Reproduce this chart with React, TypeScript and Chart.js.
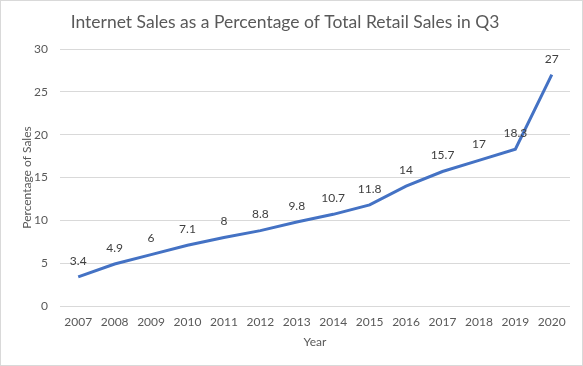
import React, { useEffect, useRef } from "react";
import { Chart, registerables } from "chart.js";

Chart.register(...registerables);

const years = ["2007", "2008", "2009", "2010", "2011", "2012", "2013", "2014", "2015", "2016", "2017", "2018", "2019", "2020"];
const percentages = [3.4, 4.9, 6, 7.1, 8, 8.8, 9.8, 10.7, 11.8, 14, 15.7, 17, 18.3, 27];
const yTicks = [0, 5, 10, 15, 20, 25, 30];

const FONT = "Lato, 'Open Sans', sans-serif";
const TEXT = "#595959";

const borderPlugin = {
  id: "frame",
  beforeDraw(chart: any) {
    const ctx = chart.ctx;
    ctx.save();
    ctx.fillStyle = "#ffffff";
    ctx.fillRect(0, 0, chart.width, chart.height);
    ctx.strokeStyle = "#d9d9d9";
    ctx.lineWidth = 1;
    ctx.strokeRect(0.5, 0.5, chart.width - 1, chart.height - 1);
    ctx.restore();
  },
};

const labelPlugin = {
  id: "pointLabels",
  afterDatasetsDraw(chart: any) {
    const ctx = chart.ctx;
    const meta = chart.getDatasetMeta(0);
    const data = chart.data.datasets[0].data as number[];
    ctx.save();
    ctx.font = `12px ${FONT}`;
    ctx.fillStyle = "#404040";
    ctx.textAlign = "center";
    ctx.textBaseline = "middle";
    meta.data.forEach((pt: any, i: number) => {
      ctx.fillText(String(data[i]), pt.x, pt.y - 16);
    });
    ctx.restore();
  },
};

export default function App() {
  const ref = useRef<HTMLCanvasElement>(null);
  useEffect(() => {
    document.body.style.margin = "0";
    const chart = new Chart(ref.current!, {
      type: "line",
      data: {
        labels: years,
        datasets: [
          {
            data: percentages,
            borderColor: "#4472C4",
            borderWidth: 3,
            pointRadius: 0,
            tension: 0,
            fill: false,
          },
        ],
      },
      options: {
        animation: false,
        responsive: false,
        maintainAspectRatio: false,
        layout: { padding: { left: 0, right: 13, top: 0, bottom: 0 } },
        plugins: {
          legend: { display: false },
          tooltip: { enabled: false },
          title: {
            display: true,
            text: "Internet Sales as a Percentage of Total Retail Sales in Q3",
            color: TEXT,
            font: { family: FONT, size: 17.5, weight: "normal" },
            padding: { top: 11.5, bottom: 16.5 },
          },
        },
        scales: {
          x: {
            offset: true,
            grid: { display: false, drawTicks: false },
            border: { display: false },
            ticks: { color: TEXT, font: { family: FONT, size: 12 }, padding: 9, maxRotation: 0, autoSkip: false },
            title: {
              display: true,
              text: "Year",
              color: TEXT,
              font: { family: FONT, size: 12 },
              padding: { top: 0, bottom: 16.8 },
            },
            afterFit: (s: any) => {
              s.height = 60;
            },
          },
          y: {
            min: 0,
            max: 30,
            afterBuildTicks: (s: any) => {
              s.ticks = yTicks.map((v) => ({ value: v }));
            },
            grid: { color: "#d9d9d9", drawTicks: false },
            border: { display: false },
            ticks: { color: TEXT, font: { family: FONT, size: 12 }, padding: 12 },
            title: {
              display: true,
              text: "Percentage of Sales",
              color: TEXT,
              font: { family: FONT, size: 12 },
              padding: { top: 19.8, bottom: 0 },
            },
            afterFit: (s: any) => {
              s.width = 60;
            },
          },
        },
      },
      plugins: [borderPlugin, labelPlugin],
    });
    return () => chart.destroy();
  }, []);
  return (
    <div style={{ position: "absolute", left: 0, top: 0, width: 583, height: 366 }}>
      <canvas ref={ref} width={583} height={366} style={{ width: 583, height: 366, display: "block" }} />
    </div>
  );
}
